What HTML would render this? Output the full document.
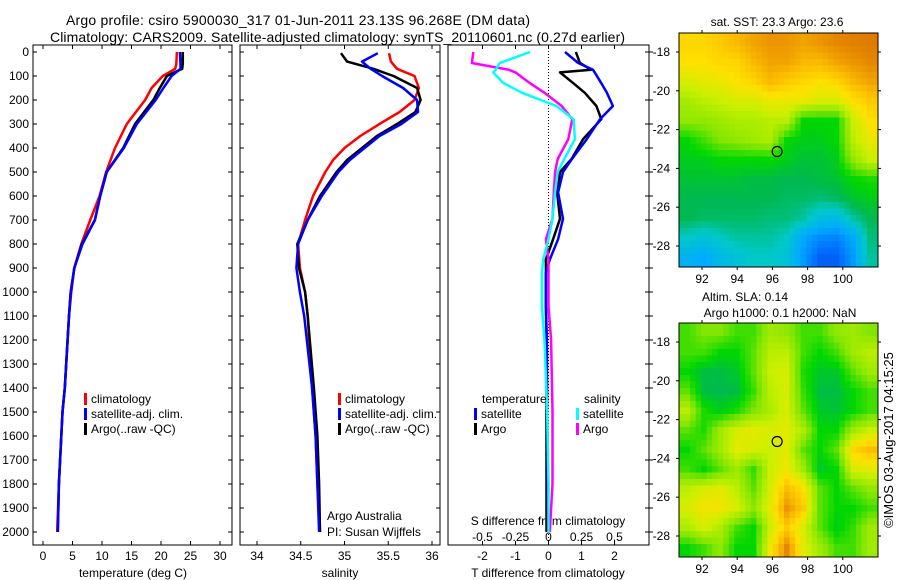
<!DOCTYPE html>
<html><head><meta charset="utf-8">
<style>
html,body{margin:0;padding:0;background:#fff;}
svg{display:block;font-family:"Liberation Sans",sans-serif;}
text{font-size:12px;fill:#000;}
</style></head>
<body>
<svg id="chart" width="900" height="580" viewBox="0 0 900 580" xmlns="http://www.w3.org/2000/svg">
<text x="66" y="25" font-size="14" textLength="464" style="font-size:14px">Argo profile: csiro 5900030_317 01-Jun-2011 23.13S 96.268E (DM data)</text>
<text x="50" y="42" font-size="14" textLength="575" style="font-size:14px">Climatology: CARS2009. Satellite-adjusted climatology: synTS_20110601.nc (0.27d earlier)</text>
<g id="g"></g>
</svg>
<script>
// ---- data ----
const depthT = [0,50,70,100,150,200,300,400,500,600,700,800,900,1000,1100,1400,1500,1600,1800,2000];
const tempClim = [22.7,22.6,22.4,20.3,18.4,17.3,14.2,12.2,10.7,9.6,8.0,6.5,5.3,4.8,4.4,3.7,3.3,3.1,2.7,2.4];
const tempSat = [23.2,23.3,23.3,21.8,20.4,19.1,15.9,13.7,10.8,9.7,8.8,6.7,5.3,4.7,4.4,3.7,3.3,3.1,2.7,2.5];
const tempArgo = [23.7,23.7,23.6,21.0,19.8,18.7,15.6,13.6,10.8,9.7,8.8,6.6,5.3,4.7,4.4,3.7,3.3,3.1,2.7,2.5];
const depthS = [5,40,70,100,150,200,250,300,350,400,450,500,600,700,800,900,1000,1100,1400,1600,1800,2000];
const salClim = [35.51,35.53,35.6,35.8,35.85,35.8,35.63,35.4,35.18,35.0,34.87,34.78,34.64,34.55,34.47,34.49,34.55,34.58,34.63,34.67,34.69,34.72];
const salSat = [35.38,35.2,35.3,35.43,35.67,35.83,35.84,35.65,35.4,35.23,35.06,34.93,34.74,34.58,34.47,34.45,34.49,34.54,34.63,34.67,34.69,34.71];
const salArgo = [34.96,35.03,35.33,35.56,35.83,35.87,35.81,35.6,35.37,35.2,35.03,34.91,34.72,34.58,34.46,34.48,34.55,34.58,34.65,34.69,34.71,34.72];
const depthD = [0,46,74,85,130,170,225,280,363,446,500,585,695,780,865,920,1060,1200,1500,1800,2000];
const dTsat = [0.5,0.9,1.35,1.4,1.6,1.77,1.95,1.56,1.16,0.71,0.44,0.29,0.44,0.29,0.04,-0.08,-0.08,-0.05,-0.04,-0.02,0];
const dTargo = [0.83,0.95,1.3,0.35,0.75,1.1,1.45,1.6,1.05,0.7,0.35,0.26,0.35,0.14,-0.08,-0.08,-0.08,-0.06,-0.06,-0.06,-0.06];
const dSsat = [-0.14,-0.37,-0.4,-0.42,-0.34,-0.2,0.06,0.19,0.2,0.12,0.07,0.05,0.03,0,-0.04,-0.05,-0.05,-0.03,-0.01,0,0];
const dSargo = [-0.57,-0.58,-0.3,-0.25,-0.14,-0.03,0.1,0.18,0.15,0.07,0.05,0.04,0.03,-0.02,0,0,0,0.02,0.03,0.03,0.01];
const depthTicks = [0,100,200,300,400,500,600,700,800,900,1000,1100,1200,1300,1400,1500,1600,1700,1800,1900,2000];
const tempTicks = [0,5,10,15,20,25,30];
const salTicks = [34,34.5,35,35.5,36];
const tdTicks = [-2,-1,0,1,2];
const sdTicks = [-0.5,-0.25,0,0.25,0.5];
const lonTicks = [92,94,96,98,100];
const latTicks = [-18,-20,-22,-24,-26,-28];
const sstGrid = [
[0.8,0.8,0.82,0.85,0.88,0.9,0.9,0.88,0.9,0.92,0.93,0.94],
[0.78,0.78,0.8,0.8,0.85,0.88,0.88,0.85,0.85,0.88,0.9,0.92],
[0.72,0.74,0.75,0.78,0.8,0.85,0.82,0.8,0.78,0.8,0.85,0.88],
[0.65,0.68,0.7,0.72,0.72,0.75,0.75,0.75,0.72,0.72,0.78,0.82],
[0.62,0.62,0.64,0.66,0.66,0.68,0.68,0.5,0.5,0.5,0.7,0.78],
[0.5,0.55,0.6,0.62,0.64,0.66,0.5,0.48,0.48,0.5,0.68,0.75],
[0.48,0.48,0.5,0.5,0.5,0.5,0.48,0.46,0.46,0.48,0.62,0.7],
[0.46,0.46,0.46,0.46,0.45,0.45,0.44,0.44,0.45,0.46,0.5,0.52],
[0.44,0.44,0.44,0.44,0.44,0.44,0.43,0.43,0.42,0.43,0.46,0.48],
[0.44,0.43,0.43,0.43,0.43,0.42,0.42,0.4,0.35,0.34,0.4,0.44],
[0.38,0.36,0.38,0.4,0.4,0.4,0.38,0.3,0.26,0.25,0.3,0.42],
[0.32,0.3,0.34,0.36,0.38,0.38,0.36,0.28,0.2,0.2,0.28,0.4]];
const slaGrid = [
[0.55,0.6,0.6,0.55,0.55,0.64,0.62,0.55,0.55,0.62,0.64,0.6],
[0.55,0.55,0.5,0.5,0.57,0.68,0.68,0.55,0.5,0.55,0.64,0.68],
[0.5,0.45,0.45,0.47,0.57,0.7,0.72,0.52,0.47,0.47,0.57,0.64],
[0.57,0.45,0.44,0.45,0.54,0.68,0.72,0.54,0.45,0.45,0.5,0.55],
[0.68,0.52,0.48,0.52,0.6,0.66,0.72,0.57,0.47,0.46,0.5,0.55],
[0.57,0.52,0.64,0.72,0.74,0.72,0.74,0.66,0.5,0.5,0.64,0.7],
[0.5,0.57,0.64,0.74,0.72,0.7,0.74,0.57,0.5,0.57,0.8,0.84],
[0.55,0.5,0.57,0.64,0.54,0.7,0.76,0.64,0.47,0.5,0.72,0.74],
[0.68,0.72,0.74,0.68,0.57,0.72,0.84,0.78,0.57,0.5,0.57,0.62],
[0.72,0.76,0.76,0.72,0.62,0.74,0.9,0.82,0.57,0.5,0.5,0.55],
[0.66,0.72,0.66,0.55,0.5,0.7,0.82,0.72,0.57,0.48,0.54,0.64],
[0.5,0.55,0.62,0.5,0.5,0.76,0.92,0.74,0.64,0.55,0.55,0.64]];
const argoLon = 96.27, argoLat = -23.13;

// ---- scales ----
const NS="http://www.w3.org/2000/svg";
const G=document.getElementById('g');
function el(tag,attrs,parent){const e=document.createElementNS(NS,tag);for(const k in attrs)e.setAttribute(k,attrs[k]);(parent||G).appendChild(e);return e;}
const yD=d=>52+d*0.24;
const xT=t=>43+t*5.9;
const xS=s=>257+(s-34)*87.5;
const xTd=v=>548.5+v*33;
const xSd=v=>548.5+v*132;
const lonX=l=>702+(l-92)*17.6;
const latY=l=>52+(-18-l)*19.4;

function panel(x0,x1,name){
  const r=el('rect',{x:x0,y:45,width:x1-x0,height:500,fill:'none',stroke:'#000','stroke-width':1});
  
  
}
panel(33,232,'temperature-panel');panel(240,440,'salinity-panel');panel(448,649,'difference-panel');

depthTicks.forEach(d=>{
  const y=yD(d);
  el('line',{x1:33,x2:37,y1:y,y2:y,stroke:'#000'});
  el('line',{x1:228,x2:232,y1:y,y2:y,stroke:'#000'});
  el('line',{x1:240,x2:244,y1:y,y2:y,stroke:'#000'});
  el('line',{x1:436,x2:440,y1:y,y2:y,stroke:'#000'});
  el('line',{x1:645,x2:653,y1:y,y2:y,stroke:'#000'});
  const t=el('text',{x:29,y:y+4,'text-anchor':'end'});t.textContent=d;
  
  
});
function xticks(arr,f,labelY,name){
  arr.forEach(v=>{const x=f(v);
    el('line',{x1:x,x2:x,y1:45,y2:49,stroke:'#000'});
    el('line',{x1:x,x2:x,y1:541,y2:545,stroke:'#000'});
    const t=el('text',{x:x,y:labelY,'text-anchor':'middle'});t.textContent=v;
    
    
  });
}
xticks(tempTicks,xT,560,'temperature-tick-label');
xticks(salTicks,xS,560,'salinity-tick-label');
xticks(tdTicks,xTd,560,'t-difference-tick-label');
sdTicks.forEach(v=>{const t=el('text',{x:xSd(v),y:541,'text-anchor':'middle'});t.textContent=v;
  
  });
function label(x,y,s,name,anchor,extra){const t=el('text',Object.assign({x:x,y:y,'text-anchor':anchor||'start'},extra||{}));t.textContent=s;
  
  return t;}
label(133,577,'temperature (deg C)','temperature-axis-title','middle');
label(340,577,'salinity','salinity-axis-title','middle');
label(548,577,'T difference from climatology','t-difference-axis-title','middle');
label(548,525,'S difference from climatology','s-difference-axis-title','middle');
el('line',{x1:548.5,x2:548.5,y1:45,y2:545,stroke:'#000','stroke-dasharray':'1,2'});

function line(xs,ds,fx,color,name,w){
  const pts=xs.map((v,i)=>fx(v).toFixed(1)+','+yD(ds[i]).toFixed(1)).join(' ');
  const p=el('polyline',{points:pts,fill:'none',stroke:color,'stroke-width':w||2.5,'stroke-linejoin':'round'});
  
  
}
line(tempClim,depthT,xT,'#f00','temperature-climatology-line');
line(tempArgo,depthT,xT,'#000','temperature-argo-line');
line(tempSat,depthT,xT,'#00f','temperature-satellite-line');
line(salClim,depthS,xS,'#f00','salinity-climatology-line');
line(salArgo,depthS,xS,'#000','salinity-argo-line');
line(salSat,depthS,xS,'#00f','salinity-satellite-line');
line(dTargo,depthD,xTd,'#000','t-diff-argo-line');
line(dTsat,depthD,xTd,'#00f','t-diff-satellite-line');
line(dSargo,depthD,xSd,'#f0f','s-diff-argo-line');
line(dSsat,depthD,xSd,'#0ff','s-diff-satellite-line');

function legendItem(x,y,color,s,name){
  el('rect',{x:x,y:y-10,width:3,height:12,fill:color});
  label(x+7,y,s,name);
}
legendItem(84,403,'#f00','climatology','legend-climatology');
legendItem(84,418,'#00f','satellite-adj. clim.','legend-satellite');
legendItem(84,433,'#000','Argo(..raw -QC)','legend-argo');
legendItem(338,403,'#f00','climatology','legend-climatology-sal');
legendItem(338,418,'#00f','satellite-adj. clim.','legend-satellite-sal');
legendItem(338,433,'#000','Argo(..raw -QC)','legend-argo-sal');
label(482,403,'temperature','legend-temperature-header');
label(584,403,'salinity','legend-salinity-header');
legendItem(474,418,'#00f','satellite','legend-t-satellite');
legendItem(474,433,'#000','Argo','legend-t-argo');
legendItem(576,418,'#0ff','satellite','legend-s-satellite');
legendItem(576,433,'#f0f','Argo','legend-s-argo');
label(327,520,'Argo Australia','credit-argo-australia');
label(327,536,'PI: Susan Wijffels','credit-pi');

const cstops=[[0.15,[0,60,230]],[0.22,[0,110,255]],[0.3,[0,170,255]],[0.38,[0,200,200]],[0.44,[0,185,80]],[0.5,[0,215,0]],[0.6,[130,230,0]],[0.7,[200,240,0]],[0.78,[255,225,0]],[0.85,[250,185,0]],[0.92,[230,135,0]],[1,[200,90,0]]];
function cmap(v){for(let i=1;i<cstops.length;i++){if(v<=cstops[i][0]){const a=cstops[i-1],b=cstops[i],t=Math.max(0,(v-a[0])/(b[0]-a[0]));return 'rgb('+a[1].map((c,k)=>Math.round(c+(b[1][k]-c)*t)).join(',')+')';}}return 'rgb(200,90,0)';}

function sample(grid,fr,fc){
  const R=grid.length-1,C=grid[0].length-1;
  fr=Math.max(0,Math.min(R,fr));fc=Math.max(0,Math.min(C,fc));
  const r0=Math.floor(fr),c0=Math.floor(fc),r1=Math.min(R,r0+1),c1=Math.min(C,c0+1),tr=fr-r0,tc=fc-c0;
  return grid[r0][c0]*(1-tr)*(1-tc)+grid[r0][c1]*(1-tr)*tc+grid[r1][c0]*tr*(1-tc)+grid[r1][c1]*tr*tc;
}
function map(grid,top,name){
  const x0=679,x1=878,h=234,rows=grid.length,cols=grid[0].length,sub=3;
  const cw=(x1-x0)/(cols*sub),ch=h/(rows*sub);
  for(let r=0;r<rows*sub;r++)for(let c=0;c<cols*sub;c++){
    const v=sample(grid,(r+0.5)/sub-0.5,(c+0.5)/sub-0.5);
    const cell=el('rect',{x:(x0+c*cw).toFixed(2),y:(top+r*ch).toFixed(2),width:(cw+0.5).toFixed(2),height:(ch+0.5).toFixed(2),fill:cmap(v)});
    
    
  }
  const fr=el('rect',{x:x0,y:top,width:x1-x0,height:h,fill:'none',stroke:'#000'});
  
  
  const off=top-33;
  lonTicks.forEach(l=>{const x=lonX(l);
    el('line',{x1:x,x2:x,y1:top-3,y2:top,stroke:'#000'});
    el('line',{x1:x,x2:x,y1:top+h,y2:top+h+3,stroke:'#000'});
    label(x,top+h+16,l,name+'-lon-label','middle');});
  latTicks.forEach(l=>{const y=latY(l)+off;
    el('line',{x1:x0-3,x2:x0,y1:y,y2:y,stroke:'#000'});
    el('line',{x1:x1,x2:x1+3,y1:y,y2:y,stroke:'#000'});
    label(670,y+4,l,name+'-lat-label','end');});
  const c=el('circle',{cx:lonX(argoLon),cy:latY(argoLat)+off,r:5,fill:'none',stroke:'#000','stroke-width':1.2});
  
  
}
map(sstGrid,33,'sst-map');
map(slaGrid,323,'sla-map');
label(777,26,'sat. SST: 23.3 Argo: 23.6','sst-map-title','middle');
label(745,301,'Altim. SLA: 0.14','sla-map-title','middle');
label(780,317,'Argo h1000: 0.1 h2000: NaN','sla-map-subtitle','middle');
label(893,440,'\u00A9IMOS 03-Aug-2017 04:15:25','timestamp-credit','middle',{transform:'rotate(-90 893 440)',style:'font-size:13px'});
</script>
</body></html>
